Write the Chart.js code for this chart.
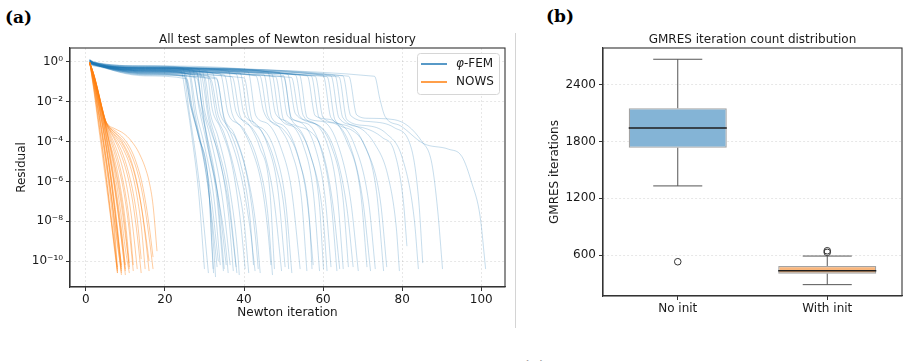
<!DOCTYPE html>
<html><head><meta charset="utf-8">
<script src="https://cdn.jsdelivr.net/npm/chart.js@4.4.1/dist/chart.umd.min.js"></script>
<style>
html,body{margin:0;padding:0;background:#fff;width:911px;height:361px;overflow:hidden;position:relative}
canvas{position:absolute;top:0}
#c1{left:0}
#c2{left:520px}
.plab{position:absolute;font-family:'DejaVu Serif';font-weight:bold;font-size:17px;line-height:17px;color:#000}
#sep{position:absolute;left:515px;top:33px;width:1px;height:295px;background:#d4d4d4}
</style></head><body>
<div class="plab" style="left:5px;top:9px">(a)</div>
<div class="plab" style="left:546px;top:8px">(b)</div>
<div class="plab" style="left:521px;top:359px;color:#444">(c)</div>
<div id="sep"></div>
<canvas id="c1" width="515" height="361"></canvas>
<canvas id="c2" width="391" height="361"></canvas>
<script>
// ---------- Panel (a): Newton residual histories ----------
// phi-FEM runs: pairs [iteration, log10(residual)] read at key points
const phiFemRuns = [
 [1,0.05, 2,-0.05, 15,-0.35, 24,-0.45, 25.5,-2.0, 27,-4.0, 28.5,-6.5, 30,-10.4],
 [1,0.10, 2,-0.02, 15,-0.2, 24.5,-0.3, 26,-2.3, 28,-5.0, 29.5,-7.5, 31,-10.6],
 [1,-0.05, 2,-0.12, 15,-0.55, 25,-0.7, 26.5,-2.2, 28.4,-3.66, 31,-6.1, 31.8,-9.0, 32.2,-10.4],
 [1,0.0, 2,-0.10, 15,-0.4, 25,-0.55, 26.8,-2.3, 28.6,-3.8, 31,-6.4, 32.4,-9.5, 32.8,-10.8],
 [1,0.08, 2,-0.05, 15,-0.7, 25.5,-0.85, 27,-2.4, 29,-4.0, 31.5,-6.5, 33.5,-10.0],
 [1,-0.10, 2,-0.20, 15,-0.3, 26,-0.4, 28,-2.6, 30,-4.2, 32.5,-7.0, 34,-10.2],
 [1,0.03, 2,-0.08, 15,-0.45, 27,-0.65, 28.5,-2.0, 30.5,-3.6, 33,-6.2, 35,-10.4],
 [1,0.12, 2,0.0, 15,-0.3, 28,-0.5, 29.5,-2.5, 31,-4.4, 33.5,-6.8, 35.5,-9.5, 36,-10.6],
 [1,-0.02, 2,-0.10, 15,-0.6, 28,-0.8, 29.5,-2.3, 31.5,-3.8, 34.5,-6.8, 36.5,-10.2],
 [1,0.06, 2,-0.06, 15,-0.2, 28.5,-0.35, 30,-2.4, 31.5,-3.4, 34,-5.0, 36,-7.5, 37.3,-10.5],
 [1,-0.08, 2,-0.15, 15,-0.45, 29,-0.6, 31,-2.8, 33,-4.3, 36,-7.0, 38,-10.3],
 [1,0.0, 2,-0.10, 15,-0.5, 30,-0.75, 31.5,-2.6, 33.5,-3.8, 36.5,-6.5, 38.5,-9.8, 38.8,-10.7],
 [1,0.10, 2,-0.04, 15,-0.25, 30.5,-0.45, 32,-2.4, 34,-3.3, 37,-5.2, 39,-7.8, 40.3,-10.4],
 [1,-0.06, 2,-0.14, 15,-0.5, 31,-0.7, 33,-2.7, 35,-3.6, 38,-5.8, 40,-8.0, 41.2,-10.6],
 [1,0.04, 2,-0.08, 15,-0.35, 32,-0.55, 34,-2.6, 36,-3.3, 39,-5.0, 41.5,-7.8, 42.4,-10.2],
 [1,0.02, 2,-0.10, 15,-0.65, 33,-0.85, 35,-2.8, 37.5,-3.6, 40.5,-5.4, 43,-8.2, 44.1,-10.6],
 [1,-0.04, 2,-0.12, 15,-0.4, 34,-0.6, 36,-2.6, 39,-3.2, 42,-4.4, 44.5,-6.2, 46,-8.4, 46.8,-10.2],
 [1,0.09, 2,-0.03, 15,-0.25, 36,-0.45, 38,-2.5, 41,-3.1, 44,-4.3, 46.5,-6.4, 47.7,-10.4],
 [1,-0.10, 2,-0.18, 15,-0.55, 37,-0.75, 39,-2.7, 42,-3.3, 45,-4.5, 47.5,-6.8, 49.5,-10.5],
 [1,0.05, 2,-0.07, 15,-0.35, 38,-0.6, 40,-2.6, 43,-3.1, 46,-4.2, 48.5,-6.3, 50.4,-10.3],
 [1,0.0, 2,-0.10, 15,-0.6, 40,-0.8, 42,-2.9, 45,-3.4, 48,-4.6, 50.5,-7.0, 52.1,-10.6],
 [1,0.07, 2,-0.05, 15,-0.3, 41,-0.5, 43,-2.7, 46,-3.1, 49.5,-4.4, 52,-6.4, 54.2,-10.4],
 [1,-0.07, 2,-0.15, 15,-0.45, 43,-0.7, 45,-2.5, 49,-3.3, 52,-4.5, 54.5,-6.8, 55.9,-10.5],
 [1,0.03, 2,-0.09, 15,-0.35, 45,-0.62, 47,-2.8, 50,-3.2, 53.5,-4.6, 56,-7.0, 57.5,-10.2],
 [1,0.11, 2,0.0, 15,-0.2, 46,-0.5, 48,-2.6, 51,-3.0, 55,-4.2, 57.5,-6.5, 59.1,-10.5],
 [1,-0.03, 2,-0.11, 15,-0.5, 48,-0.75, 50,-2.9, 53,-3.2, 56.5,-4.5, 59,-7.0, 60.1,-10.4],
 [1,0.01, 2,-0.10, 15,-0.3, 49,-0.55, 51,-2.7, 54,-3.0, 58,-4.3, 60.5,-6.8, 62,-10.3],
 [1,0.06, 2,-0.06, 15,-0.4, 50,-0.68, 52,-2.8, 56,-3.1, 59.5,-4.4, 62,-7.0, 63.5,-10.5],
 [1,-0.05, 2,-0.13, 15,-0.25, 51,-0.6, 53,-2.6, 57,-3.0, 61,-4.1, 63.5,-6.5, 65.1,-10.4],
 [1,0.04, 2,-0.08, 15,-0.55, 52,-0.78, 54,-2.7, 58,-3.1, 62,-4.2, 65,-6.8, 66.4,-10.3],
 [1,0.0, 2,-0.10, 15,-0.3, 54,-0.65, 56,-2.8, 60,-3.0, 64,-4.3, 67,-7.0, 68.9,-10.5],
 [1,0.08, 2,-0.04, 15,-0.4, 56,-0.7, 58,-2.7, 62,-2.9, 66,-4.0, 69.5,-6.6, 71.1,-10.3],
 [1,-0.02, 2,-0.10, 15,-0.35, 58,-0.72, 60,-2.8, 64,-3.1, 68,-4.2, 71.5,-7.0, 73.2,-10.4],
 [1,0.05, 2,-0.05, 15,-0.3, 60,-0.66, 62,-2.8, 66,-3.2, 70,-4.0, 73.5,-6.5, 75.3,-10.5],
 [1,-0.04, 2,-0.12, 15,-0.45, 61,-0.74, 63,-2.9, 67,-3.4, 71,-4.4, 74.5,-7.0, 76.1,-10.3],
 [1,0.03, 2,-0.07, 15,-0.35, 62,-0.7, 64,-2.8, 68,-3.2, 73,-4.1, 76.5,-5.8, 78.5,-8.3, 79.3,-10.5],
 [1,0.0, 2,-0.10, 15,-0.3, 63,-0.68, 65,-2.8, 70,-3.3, 75,-3.8, 78,-4.5, 80.3,-7.0, 81.2,-9.25],
 [1,-0.06, 2,-0.14, 15,-0.5, 64,-0.75, 66,-2.9, 71,-3.2, 76,-3.6, 80,-4.8, 83,-7.8, 84.1,-10.4],
 [1,0.02, 2,-0.08, 15,-0.4, 65,-0.7, 67,-2.7, 72,-3.0, 78,-3.3, 82.4,-4.4, 84.2,-7.0, 85.2,-10.1],
 [1,-0.02, 2,-0.10, 15,-0.3, 66.5,-0.72, 68.5,-2.66, 71.5,-2.83, 78,-2.9, 85,-4.0, 87.5,-5.1, 89,-7.5, 90.2,-10.4],
 [1,0.05, 2,-0.07, 15,-0.35, 73,-0.72, 74.4,-1.9, 75.7,-2.75, 79.5,-3.2, 85.4,-4.1, 91.7,-4.38, 95.1,-4.75, 97.6,-6.08, 99.7,-7.75, 101.1,-10.4],
 [1,0.02, 2,-0.08, 15,-0.6, 25,-0.75, 26.5,-2.2, 28.4,-3.66, 31,-6.1, 32,-9.5, 32.3,-10.6],
 [1,-0.03, 2,-0.12, 15,-0.4, 28,-0.55, 29.5,-2.4, 31.2,-4.4, 33.5,-6.8, 35.5,-10.2],
 [1,0.07, 2,-0.03, 15,-0.25, 27,-0.4, 28.6,-2.3, 30.5,-4.0, 33,-6.6, 34.8,-10.5],
 [1,0.04, 2,-0.06, 15,-0.55, 33,-0.8, 35,-2.9, 38,-3.9, 41,-6.0, 43,-9.0, 43.6,-10.4],
 [1,-0.08, 2,-0.16, 15,-0.4, 35,-0.65, 37,-2.6, 40,-3.4, 43.5,-5.0, 46,-7.6, 47.2,-10.7],
 [1,0.0, 2,-0.10, 15,-0.3, 39,-0.55, 41,-2.7, 44.5,-3.5, 48,-5.2, 50.5,-8.0, 51.3,-10.4],
 [1,0.06, 2,-0.04, 15,-0.45, 44,-0.7, 46,-2.7, 50,-3.4, 54,-5.0, 56.5,-7.8, 57.2,-10.4],
 [1,-0.04, 2,-0.12, 15,-0.3, 47,-0.6, 49,-2.8, 53,-3.3, 57,-4.8, 60,-7.8, 61,-10.5],
 [1,0.02, 2,-0.08, 15,-0.5, 50,-0.75, 52,-2.9, 56,-3.4, 60,-4.6, 62.5,-7.2, 64.2,-10.4],
 [1,0.09, 2,-0.02, 15,-0.35, 53,-0.65, 55,-2.7, 59,-3.2, 63,-4.5, 66,-7.3, 67.6,-10.3],
 [1,-0.06, 2,-0.13, 15,-0.45, 57,-0.7, 59,-2.8, 63,-3.1, 67,-4.3, 70,-6.9, 72,-10.5],
 [1,0.0, 2,-0.09, 15,-0.45, 26,-0.6, 27.5,-2.5, 29.5,-4.5, 31.5,-7.2, 33.2,-10.3],
 [1,0.05, 2,-0.06, 15,-0.3, 29.5,-0.5, 31,-2.5, 33,-4.0, 36,-6.6, 38.2,-10.6],
 [1,-0.02, 2,-0.11, 15,-0.65, 31.5,-0.85, 33.5,-2.7, 36,-3.6, 39,-5.5, 41.5,-8.3, 42.8,-10.5]
];
// NOWS runs: log10(residual) at iterations 1, 2, 3, ...
const nowsRuns = [
 [-0.03,-1.4,-2.9,-4.4,-5.9,-7.4,-8.9,-10.5],
 [-0.05,-1.3,-2.7,-4.1,-5.6,-7.1,-8.7,-10.4],
 [-0.02,-1.25,-2.6,-4.0,-5.5,-7.2,-9.0,-10.6],
 [-0.04,-1.1,-2.3,-3.5,-4.8,-6.2,-7.8,-10.3],
 [-0.06,-1.15,-2.35,-3.6,-5.0,-6.5,-8.2,-10.6],
 [-0.03,-1.05,-2.2,-3.4,-4.7,-6.1,-7.6,-9.2,-10.5],
 [-0.05,-1.0,-2.1,-3.3,-4.6,-6.0,-7.5,-9.0,-10.7],
 [-0.04,-0.95,-1.95,-3.0,-4.2,-5.5,-7.0,-8.7,-10.4],
 [-0.07,-0.9,-1.9,-2.95,-4.1,-5.4,-6.9,-8.6,-10.2],
 [-0.02,-0.92,-1.9,-2.9,-4.0,-5.3,-6.8,-8.5,-10.6],
 [-0.05,-0.88,-1.82,-2.85,-3.95,-5.2,-6.6,-8.3,-10.3],
 [-0.06,-0.85,-1.75,-2.7,-3.7,-4.8,-6.0,-7.4,-8.9,-10.5],
 [-0.03,-0.82,-1.7,-2.65,-3.6,-4.7,-5.9,-7.3,-8.9,-10.7],
 [-0.08,-0.8,-1.68,-2.6,-3.55,-4.6,-5.8,-7.1,-8.6,-10.2],
 [-0.04,-0.78,-1.62,-2.52,-3.45,-4.45,-5.6,-6.9,-8.4,-10.4],
 [-0.05,-0.75,-1.55,-2.42,-3.3,-4.2,-5.2,-6.4,-7.8,-9.4,-10.6],
 [-0.03,-0.72,-1.5,-2.36,-3.25,-4.1,-5.0,-6.0,-7.2,-8.7,-10.3],
 [-0.03,-0.7,-1.5,-2.36,-3.2,-4.05,-4.9,-5.8,-6.9,-8.4,-10.4],
 [-0.07,-0.76,-1.56,-2.42,-3.25,-4.0,-4.7,-5.5,-6.6,-8.0,-10.1],
 [-0.04,-0.7,-1.48,-2.35,-3.15,-3.8,-4.4,-5.1,-5.9,-7.0,-8.5,-10.5],
 [-0.05,-0.66,-1.45,-2.3,-3.1,-3.65,-4.2,-4.8,-5.6,-6.6,-8.0,-10.2],
 [-0.06,-0.72,-1.5,-2.35,-3.1,-3.55,-4.0,-4.5,-5.1,-5.9,-7.0,-8.5,-10.4],
 [-0.02,-0.62,-1.4,-2.25,-3.0,-3.45,-3.8,-4.2,-4.7,-5.3,-6.1,-7.2,-8.7,-10.6],
 [-0.08,-0.7,-1.47,-2.3,-3.05,-3.42,-3.72,-4.05,-4.45,-5.0,-5.7,-6.6,-7.9,-9.9],
 [-0.04,-0.65,-1.42,-2.26,-3.0,-3.38,-3.62,-3.9,-4.2,-4.6,-5.1,-5.8,-6.8,-8.2,-10.4],
 [-0.05,-0.62,-1.38,-2.22,-2.95,-3.3,-3.5,-3.7,-3.95,-4.3,-4.7,-5.3,-6.1,-7.2,-8.7,-10.5],
 [-0.03,-0.68,-1.45,-2.28,-3.0,-3.35,-3.58,-3.8,-4.05,-4.4,-4.85,-5.4,-6.2,-7.2,-8.5,-10.0],
 [-0.06,-0.64,-1.4,-2.24,-2.98,-3.3,-3.48,-3.65,-3.85,-4.1,-4.45,-4.9,-5.5,-6.3,-7.4,-8.8,-10.4],
 [-0.04,-0.6,-1.36,-2.2,-2.94,-3.26,-3.4,-3.55,-3.72,-3.95,-4.25,-4.65,-5.2,-5.9,-6.9,-8.2,-9.8],
 [-0.05,-0.62,-1.38,-2.22,-2.95,-3.22,-3.32,-3.42,-3.52,-3.66,-3.85,-4.1,-4.4,-4.8,-5.3,-6.0,-7.2,-9.5]
];
const newtonTicks = [0, 20, 40, 60, 80, 100];
const residualTickExps = [-10, -8, -6, -4, -2, 0];

// ---------- Panel (b): GMRES box plot ----------
const boxCategories = ['No init', 'With init'];
const boxWhiskerLow = [1330, 287];
const boxQ1 = [1733, 403];
const boxMedian = [1943, 435];
const boxQ3 = [2151, 484];
const boxWhiskerHigh = [2668, 589];
const boxOutliers = [[529], [628, 645]];
const gmresTicks = [600, 1200, 1800, 2400];

const SUP = {'-':'\u207B','0':'\u2070','1':'\u00B9','2':'\u00B2','3':'\u00B3','4':'\u2074','5':'\u2075','6':'\u2076','7':'\u2077','8':'\u2078','9':'\u2079'};
const sup = s => String(s).split('').map(c => SUP[c]).join('');
const FONT = 'DejaVu Sans';
Chart.defaults.font.family = FONT;
Chart.defaults.font.size = 12;
Chart.defaults.color = '#1a1a1a';

const GRID = {color:'rgba(0,0,0,0.12)', lineWidth:0.8, tickLength:4, tickColor:'#333', tickWidth:1};
const BORDER = {display:true, color:'#333', width:1.1, dash:[2,2]};

const framePlugin = {id:'frame', afterDatasetsDraw(chart){
  const {ctx, chartArea:ca} = chart;
  ctx.save(); ctx.strokeStyle = '#333'; ctx.lineWidth = 1.1;
  ctx.strokeRect(ca.left, ca.top, ca.right - ca.left, ca.bottom - ca.top);
  ctx.restore();
}};
const titlePlugin = {id:'ttl', afterDraw(chart, args, opts){
  const {ctx, chartArea:ca} = chart;
  ctx.save(); ctx.font = '12px ' + FONT; ctx.fillStyle = '#1a1a1a';
  ctx.textAlign = 'center'; ctx.textBaseline = 'alphabetic';
  ctx.fillText(opts.text, (ca.left + ca.right) / 2, ca.top - 5);
  ctx.restore();
}};
const legendPlugin = {id:'leg', afterDraw(chart){
  const {ctx, chartArea:ca} = chart;
  const w = 82, h = 41, x0 = ca.right - 6 - w, y0 = ca.top + 5;
  ctx.save();
  ctx.beginPath(); ctx.roundRect(x0 + 0.5, y0 + 0.5, w, h, 3);
  ctx.fillStyle = 'rgba(255,255,255,0.85)'; ctx.fill();
  ctx.strokeStyle = '#d6d6d6'; ctx.lineWidth = 1; ctx.stroke();
  const rows = [{c:'rgba(31,119,180,0.75)', y:y0 + 11}, {c:'rgba(255,127,14,0.75)', y:y0 + 29}];
  rows.forEach(r => { ctx.beginPath(); ctx.moveTo(x0 + 4, r.y); ctx.lineTo(x0 + 30, r.y);
    ctx.strokeStyle = r.c; ctx.lineWidth = 2; ctx.stroke(); });
  ctx.fillStyle = '#1a1a1a'; ctx.textBaseline = 'middle'; ctx.textAlign = 'left';
  let tx = x0 + 39;
  ctx.font = 'italic 12px ' + FONT; ctx.fillText('\u03C6', tx, rows[0].y);
  tx += ctx.measureText('\u03C6').width;
  ctx.font = '12px ' + FONT; ctx.fillText('-FEM', tx, rows[0].y);
  ctx.fillText('NOWS', x0 + 39, rows[1].y);
  ctx.restore();
}};

const datasetsA = [];
nowsRuns.forEach(r => datasetsA.push({
  data: r.map((e, i) => ({x: i + 1, y: Math.pow(10, e)})),
  borderColor: 'rgba(255,127,14,0.4)', borderWidth: 1, pointRadius: 0,
  cubicInterpolationMode: 'monotone', order: 0
}));
phiFemRuns.forEach(r => {
  const pts = [];
  for (let i = 0; i < r.length; i += 2) pts.push({x: r[i], y: Math.pow(10, r[i + 1])});
  datasetsA.push({data: pts, borderColor: 'rgba(31,119,180,0.25)', borderWidth: 1,
    pointRadius: 0, cubicInterpolationMode: 'monotone', order: 1});
});

new Chart(document.getElementById('c1'), {
  type: 'line',
  data: {datasets: datasetsA},
  options: {
    responsive: false, animation: false, devicePixelRatio: 1,
    layout: {padding: {left: 0, top: 48, right: 10, bottom: 0}},
    plugins: {legend: {display: false}, tooltip: {enabled: false}, ttl: {text: 'All test samples of Newton residual history'}},
    scales: {
      x: {type: 'linear', min: -4, max: 106,
        afterBuildTicks: s => { s.ticks = newtonTicks.map(v => ({value: v})); },
        afterFit: s => { s.height = 74; },
        grid: GRID, border: BORDER,
        ticks: {padding: 2, autoSkip: false, maxRotation: 0, callback: v => String(v)},
        title: {display: true, text: 'Newton iteration', padding: {top: 0, bottom: 41}}},
      y: {type: 'logarithmic', min: 5e-12, max: 5,
        afterBuildTicks: s => { s.ticks = residualTickExps.map(e => ({value: Math.pow(10, e)})); },
        afterFit: s => { s.width = 70; },
        grid: GRID, border: BORDER,
        ticks: {padding: 3, autoSkip: false, callback: v => '10' + sup(Math.round(Math.log10(v)))},
        title: {display: true, text: 'Residual', padding: {top: 15, bottom: 0}}}
    }
  },
  plugins: [framePlugin, titlePlugin, legendPlugin]
});

const boxPlugin = {id:'box', afterDatasetsDraw(chart){
  const {ctx, scales:{y}} = chart; const meta = chart.getDatasetMeta(0);
  ctx.save();
  const ln = (a, b, c, d) => { ctx.beginPath(); ctx.moveTo(a, b); ctx.lineTo(c, d); ctx.stroke(); };
  boxCategories.forEach((c, i) => {
    const bar = meta.data[i]; const cx = bar.x; const hw = bar.width / 2;
    const yq1 = y.getPixelForValue(boxQ1[i]), yq3 = y.getPixelForValue(boxQ3[i]);
    const ylo = y.getPixelForValue(boxWhiskerLow[i]), yhi = y.getPixelForValue(boxWhiskerHigh[i]);
    const ymed = y.getPixelForValue(boxMedian[i]);
    ctx.strokeStyle = '#555'; ctx.lineWidth = 1;
    ln(cx, yq3, cx, yhi); ln(cx, yq1, cx, ylo);
    ln(cx - hw / 2, yhi, cx + hw / 2, yhi); ln(cx - hw / 2, ylo, cx + hw / 2, ylo);
    ctx.strokeStyle = '#1e1e1e'; ctx.lineWidth = 1.5;
    ln(cx - hw, ymed, cx + hw, ymed);
  });
  ctx.restore();
}};

const outlierPts = [];
boxOutliers.forEach((arr, i) => arr.forEach(v => outlierPts.push({x: boxCategories[i], y: v})));

new Chart(document.getElementById('c2'), {
  type: 'bar',
  data: {
    labels: boxCategories,
    datasets: [
      {type: 'bar', data: boxCategories.map((c, i) => [boxQ1[i], boxQ3[i]]),
        backgroundColor: ['#84b4d6', '#f9b67c'], borderColor: '#a3a3a3', borderWidth: 1.3,
        borderSkipped: false, barPercentage: 0.656, categoryPercentage: 1, order: 2},
      {type: 'line', data: outlierPts, showLine: false, pointRadius: 3.3, pointStyle: 'circle',
        pointBackgroundColor: 'rgba(0,0,0,0)', pointBorderColor: '#333', pointBorderWidth: 1, order: 1}
    ]
  },
  options: {
    responsive: false, animation: false, devicePixelRatio: 1,
    layout: {padding: {left: 0, top: 48, right: 9, bottom: 0}},
    plugins: {legend: {display: false}, tooltip: {enabled: false}, ttl: {text: 'GMRES iteration count distribution'}},
    scales: {
      x: {type: 'category', offset: true,
        afterFit: s => { s.height = 65; },
        grid: {display: true, drawOnChartArea: false, offset: false, tickLength: 4, tickColor: '#333', tickWidth: 1},
        border: {display: true, color: '#333', width: 1.1},
        ticks: {padding: 2, maxRotation: 0}},
      y: {type: 'linear', min: 167, max: 2787,
        afterBuildTicks: s => { s.ticks = gmresTicks.map(v => ({value: v})); },
        afterFit: s => { s.width = 83; },
        grid: GRID, border: BORDER,
        ticks: {padding: 3, autoSkip: false, callback: v => String(v)},
        title: {display: true, text: 'GMRES iterations', padding: {top: 28, bottom: 0}}}
    }
  },
  plugins: [boxPlugin, framePlugin, titlePlugin]
});
</script>
</body></html>
